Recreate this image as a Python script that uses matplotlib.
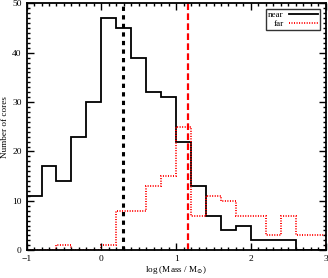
import numpy as np
import matplotlib.pyplot as plt
from matplotlib.ticker import MultipleLocator

# bin edges in log(M/Msun)
edges = np.round(np.arange(-1.0, 3.01, 0.2), 2)

# number of cores per bin
near = [11, 17, 14, 23, 30, 47, 45, 39, 32, 31, 22, 13, 7, 4, 5, 2, 2, 2, 0, 0]
far = [0, 0, 1, 0, 0, 1, 8, 8, 13, 15, 25, 7, 11, 10, 7, 7, 3, 7, 3, 3]

# median masses (vertical lines)
near_med = 0.29
far_med = 1.16

plt.rcParams["font.family"] = ["Liberation Serif", "DejaVu Serif"]
plt.rcParams["mathtext.fontset"] = "dejavuserif"

fig = plt.figure(figsize=(3.28, 2.78), dpi=100)
ax = fig.add_axes([0.081, 0.1, 0.912, 0.888])

ax.stairs(near, edges, color="black", lw=1.3, label="near")
ax.stairs(far, edges, color="red", lw=1.4, ls=(0, (0.5, 0.8)), label="far")
ax.axvline(near_med, color="black", lw=2.2, ls=(0, (1.4, 1.4)))
ax.axvline(far_med, color="red", lw=1.6, ls=(0, (3, 1.5)))

ax.set_xlim(-1, 3)
ax.set_ylim(0, 50)
ax.xaxis.set_major_locator(MultipleLocator(1))
ax.xaxis.set_minor_locator(MultipleLocator(0.1))
ax.yaxis.set_major_locator(MultipleLocator(10))
ax.yaxis.set_minor_locator(MultipleLocator(1))
ax.tick_params(which="both", direction="in", top=True, right=True, labelsize=6.8, width=1)
ax.tick_params(which="major", length=5, pad=3.5)
ax.tick_params(which="minor", length=2.5)
for s in ax.spines.values():
    s.set_linewidth(1.3)

ax.set_xlabel(r"log (Mass / M$_{\odot}$)", fontsize=6.6, labelpad=1)
ax.set_ylabel("Number of cores", fontsize=6.6, labelpad=2)

leg = ax.legend(loc="upper right", fontsize=6.5, handlelength=3.2, frameon=True,
                fancybox=False, edgecolor="black", borderpad=0.25, labelspacing=0.05,
                handletextpad=0.6, markerfirst=False, borderaxespad=0.6)
leg.get_frame().set_linewidth(1.0)

fig.savefig("out.png", dpi=100)
